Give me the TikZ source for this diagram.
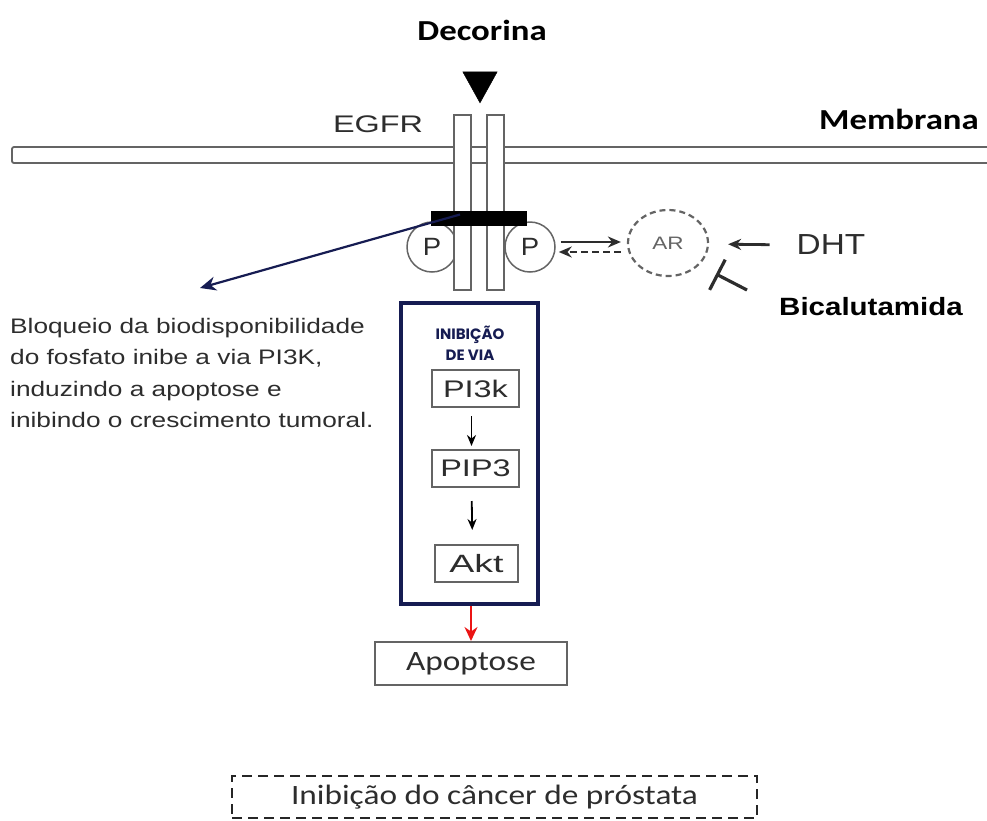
\documentclass[tikz,border=0pt]{standalone}
\usepackage{fontspec}
\setmainfont{Liberation Sans}
\newfontfamily\calfont{Carlito}
\newfontfamily\popfont{Poppins}
\usetikzlibrary{arrows.meta,shapes.geometric,calc}
\definecolor{navyc}{RGB}{22,28,82}
\definecolor{lgray}{RGB}{100,100,100}
\definecolor{tgray}{RGB}{45,45,45}
\definecolor{redc}{RGB}{235,20,20}
\newcommand\sx[2]{\scalebox{#1}[1]{#2}}
\newcommand\fs[1]{\fontsize{#1}{#1}\selectfont}
\begin{document}
\begin{tikzpicture}[x=1pt,y=-1pt,
  txt/.style={inner sep=0pt, text=tgray},
  bartxt/.style={inner sep=0pt, text=black},
  recbar/.style={draw=lgray, line width=1.5pt, fill=white, minimum width=17pt, minimum height=175pt, inner sep=0pt},
  pcirc/.style={draw=lgray, line width=1.5pt, fill=white, circle, minimum size=50pt, inner sep=0pt, text=tgray},
  pbox/.style={draw=lgray, line width=2pt, fill=white, inner sep=0pt, minimum height=37pt, text=tgray},
  smallarr/.style={-{Stealth[length=11pt,width=9pt]}, line width=1.8pt, black},
  grayarr/.style={-{Stealth[length=13pt,width=11pt]}, line width=2.8pt, tgray}
]
\useasboundingbox (0,0) rectangle (987,820);

% membrane
\draw[lgray, line width=1.8pt, rounded corners=2pt] (12,147) rectangle (1010,163);

% titles
\node[bartxt] (decorina) at (482,30) {\sx{1.2}{\calfont\bfseries\fs{29}Decorina}};
\node[txt] (egfr) at (378,124) {\sx{1.35}{\fs{24}EGFR}};
\node[bartxt] (membrana) at (899,119) {\sx{1.2}{\calfont\bfseries\fs{29}Membrana}};

% decorin triangle
\node[draw=black, fill=black, isosceles triangle, isosceles triangle apex angle=58, shape border rotate=-90, minimum width=34pt, minimum height=31pt, inner sep=0pt] (tri) at (480,82) {};

% P circles (behind bars)
\node[pcirc] (pL) at (432,247) {\sx{1.1}{\fs{25}P}};
\node[pcirc] (pR) at (530,247) {\sx{1.1}{\fs{25}P}};

% receptor bars
\node[recbar] (barL) at (462.5,202.5) {};
\node[recbar] (barR) at (495.5,202.5) {};

% black bar
\node[fill=black, minimum width=96pt, minimum height=15pt, inner sep=0pt] (blk) at (479,218.5) {};

% AR
\node[ellipse, draw=lgray, dashed, dash pattern=on 6pt off 4pt, line width=2.2pt, minimum width=80pt, minimum height=66pt, inner sep=0pt, text=lgray] (ar) at (668,243) {\sx{1.25}{\fs{18}AR}};

\draw[grayarr] ([xshift=5pt,yshift=5pt]pR.east) -- ([xshift=-6pt,yshift=1pt]ar.west);
\draw[grayarr, dashed, dash pattern=on 7pt off 4pt] ([xshift=-6pt,yshift=-9pt]ar.west) -- ([xshift=3pt,yshift=-5pt]pR.east);

\node[txt] (dht) at (831,245) {\sx{1.15}{\fs{29}DHT}};
\draw[grayarr, shorten <=27pt, shorten >=19pt] (dht.west) -- ([yshift=1pt]dht.west -| ar.east);

\node[bartxt] (bical) at (871,307) {\sx{1.18}{\bfseries\fs{25}Bicalutamida}};
\coordinate (inhS) at (747,290);
\coordinate (inhE) at (716,274);
\draw[tgray, line width=3.2pt, -{Bar[width=34pt]}] (inhS) -- (inhE);

% navy arrow to explanation
\coordinate (blkTip) at (200,288);
\draw[navyc, line width=2.2pt, -{Stealth[length=16pt,width=14pt]}] ([xshift=-19pt,yshift=4pt]blk.center) -- (blkTip);

\node[txt, anchor=north west, align=left] (expl) at (10,318) {\sx{1.25}{\fs{21}\begin{tabular}{@{}l@{}}Bloqueio da biodisponibilidade\\[10pt]do fosfato inibe a via PI3K,\\[10pt]induzindo a apoptose e\\[10pt]inibindo o crescimento tumoral.\end{tabular}}};

% pathway box
\node[draw=navyc, line width=3.5pt, minimum width=137pt, minimum height=301pt, inner sep=0pt] (path) at (469.5,453.5) {};
\node[inner sep=0pt, text=navyc, align=center, font={\popfont\bfseries\fontsize{15}{21}\selectfont}] (title) at (470,343) {INIBIÇÃO\\DE VIA};
\node[pbox, minimum width=87pt] (pi3k) at (475.5,388.5) {\sx{1.35}{\fs{24}PI3k}};
\node[pbox, minimum width=87pt] (pip3) at (475.5,468.5) {\sx{1.35}{\fs{24}PIP3}};
\node[pbox, minimum width=83pt] (akt) at (476.5,563.5) {\sx{1.5}{\fs{25}Akt}};
\draw[smallarr, shorten <=8pt, shorten >=3pt] ([xshift=-4pt]pi3k.south) -- ([xshift=-4pt]pip3.north);
\draw[smallarr, shorten <=13pt, shorten >=14pt] ([xshift=-4pt]pip3.south) -- ([xshift=-4pt]akt.north);

% apoptose
\node[pbox, minimum width=192pt, minimum height=43pt, text=tgray] (apop) at (471,663.5) {\sx{1.19}{\calfont\fs{28}Apoptose}};
\draw[redc, line width=1.6pt, -{Stealth[length=14pt,width=13pt]}] (path.south -| apop.north) -- (apop.north);

% final dashed box
\node[draw=black!85, dashed, dash pattern=on 10pt off 6pt, line width=2.5pt, minimum width=525pt, minimum height=42pt, inner sep=0pt, text=tgray] (final) at (494.5,797) {\sx{1.19}{\calfont\fs{28}Inibição do câncer de próstata}};
\end{tikzpicture}
\end{document}
